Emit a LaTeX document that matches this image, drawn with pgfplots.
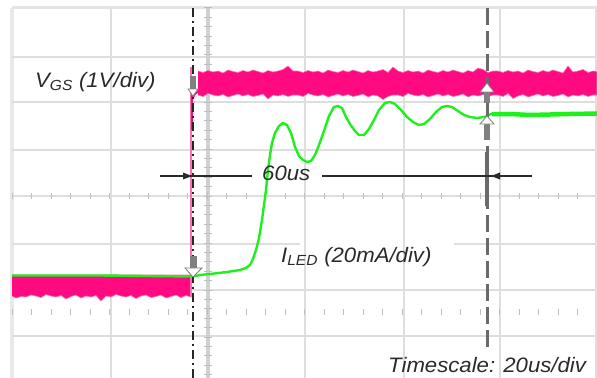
\documentclass[border=0pt]{standalone}
\usepackage{pgfplots}
\pgfplotsset{compat=1.18}
\usepackage{fontspec}
\setmainfont{Liberation Sans}
\definecolor{pinkc}{HTML}{FF0A80}
\definecolor{pinkl}{HTML}{FF70B0}
\definecolor{greenc}{HTML}{1EF01E}
\definecolor{gridc}{HTML}{DEDEDE}
\definecolor{gridt}{HTML}{BFBFBF}
\definecolor{gridm}{HTML}{D0D0D0}
\definecolor{curs}{HTML}{6A6A6A}
\definecolor{txt}{HTML}{2A2A2A}
\newcommand\lbl[1]{\scalebox{1.06}[1]{#1}}
\begin{document}
\begin{tikzpicture}
\begin{axis}[width=597bp,height=378bp,scale only axis,
  xmin=0,xmax=597,ymin=0,ymax=378,y dir=reverse,hide axis,clip=true]
% ---- grid ----
\pgfplotsinvokeforeach{111,305,404,500,596}{\draw[gridc,line width=1.6bp] (#1,8) -- (#1,378);}
\draw[gridc!70,line width=4bp] (12,8) -- (12,378);
\pgfplotsinvokeforeach{57,102,150,196,290,336}{\draw[gridc,line width=1.6bp] (12,#1) -- (597,#1);}
\draw[gridc,line width=1.6bp] (12,244) -- (300,244);
\draw[gridc,line width=1.6bp] (454,244) -- (597,244);
\draw[gridc!80,line width=3bp] (12,8) -- (597,8);
\draw[gridm,line width=4bp] (208,8) -- (208,378);
\pgfplotsinvokeforeach{0,...,39}{\draw[gridt,line width=1bp] (204,{8+9.4*#1}) -- (212,{8+9.4*#1});}
\pgfplotsinvokeforeach{0,...,30}{\draw[gridt,line width=1bp] ({12+19.5*#1},193) -- ({12+19.5*#1},199);
  \draw[gridt,line width=1bp] ({12+19.5*#1},309) -- ({12+19.5*#1},315);}
% ---- VGS trace ----
\addplot[fill=pinkc,draw=pinkl,line width=0.6bp] coordinates {
(198,71) (203,72.5) (208,70.5) (213,72) (218,71) (223,73) (228,70) (233,71.5) (238,72.5) (243,70.5)
(248,72) (253,70) (258,71.5) (263,73) (268,70.5) (273,72) (278,71) (283,69.5) (288,66) (293,71)
(298,71) (303,72.5) (308,70.5) (313,72) (318,71) (323,73) (328,70) (333,71.5) (338,72.5) (343,70.5)
(348,72) (353,70) (358,71.5) (363,73) (368,70.5) (373,72) (378,71) (383,69.5) (388,72.5) (393,67)
(398,71) (403,72.5) (408,70.5) (413,72) (418,71) (423,73) (428,70) (433,71.5) (438,72.5) (443,70.5)
(448,72) (453,70) (458,71.5) (463,73) (468,70.5) (473,72) (478,68) (483,69.5) (488,72.5) (493,71)
(498,71) (503,72.5) (508,70.5) (513,72) (518,71) (523,73) (528,70) (533,71.5) (538,72.5) (543,70.5)
(548,72) (553,70) (558,71.5) (563,73) (568,66) (573,72) (578,71) (583,69.5) (588,72.5) (593,71)
(597,71.5)
(597,95) (593,95) (588,96.5) (583,94.5) (578,96) (573,95) (568,97) (563,94) (558,95.5) (553,96.5) (548,94.5)
(543,96) (538,94) (533,95.5) (528,97) (523,94.5) (518,96) (513,98.5) (508,93.5) (503,96.5) (498,95)
(493,95) (488,96.5) (483,94.5) (478,96) (473,95) (468,97) (463,94) (458,95.5) (453,96.5) (448,94.5)
(443,96) (438,94) (433,95.5) (428,97) (423,94.5) (418,96) (413,95) (408,93.5) (403,96.5) (398,95)
(393,95) (388,96.5) (383,99.5) (378,96) (373,95) (368,97) (363,94) (358,95.5) (353,96.5) (348,94.5)
(343,96) (338,94) (333,95.5) (328,97) (323,94.5) (318,96) (313,95) (308,93.5) (303,96.5) (298,95)
(293,95) (288,96.5) (283,94.5) (278,96) (273,95) (268,99) (263,94) (258,95.5) (253,96.5) (248,94.5)
(243,96) (238,94) (233,95.5) (228,97) (223,94.5) (218,96) (213,95) (208,93.5) (203,96.5) (198,95)};
\addplot[fill=pinkc,draw=pinkl,line width=0.6bp] coordinates {
(12,275) (191,275)
(191,297) (186,295.5) (181,297.5) (176,295) (171,296.5) (166,298) (161,295) (156,296.5) (151,297.5) (146,295)
(141,296) (136,298.5) (131,295.5) (126,297) (121,296) (116,294.5) (111,297) (106,296) (101,301) (96,295.5)
(91,297) (86,296) (81,298) (76,295) (71,296.5) (66,299) (61,295.5) (56,297) (51,296) (46,294.5)
(41,297.5) (36,296) (31,295) (26,297) (21,296.5) (16,298) (12,296)};
\addplot[pinkl,line width=2bp] coordinates {(191,297) (191,67)};
\addplot[pinkc,line width=2bp] coordinates {(192,130) (192,95)};
\addplot[pinkc,line width=3bp] coordinates {(192,99) (194,94) (198,91)};
% ---- ILED trace ----
\addplot[greenc,line width=2.4bp] coordinates {
(12,275.5) (100,275.5) (193,276.5) (200,275) (210,274) (227,272) (240,270) (246,268)
(250,265) (253,259) (256,250) (259,238) (262,220) (264,205) (266,190) (268,170) (270,155)
(272,143) (275,133) (279,126) (283,123) (287,125) (291,133) (295,147) (299,156) (303,160)
(307,162) (311,161) (315,155) (319,145) (324,131) (329,116) (334,107) (338,106) (342,108)
(346,117) (350,124) (355,131) (359,135) (364,135) (369,129) (374,120) (379,110) (385,103)
(390,102) (395,104) (401,110) (407,117) (413,122) (419,125) (424,124) (430,119) (436,112)
(442,107) (447,106) (452,107) (458,111) (464,115) (470,117) (477,118) (484,117) (487,116)
(491,114) (494,113)};
\addplot[greenc,line width=4.5bp] coordinates {
(492,114) (510,114) (530,115) (550,114.5) (570,114) (597,113.5)};
% ---- cursors ----
\draw[black!85,line width=1.3bp,dash pattern=on 9bp off 4bp on 2bp off 4bp] (193,8) -- (193,378);
\draw[curs,line width=3bp,dash pattern=on 17bp off 6bp] (487,8) -- (487,352);
\draw[curs,line width=3bp] (487,95) -- (487,140);
\draw[curs,line width=3.5bp] (487,152) -- (487,206);
% markers
\fill[gray] (190,76) rectangle (196,89);
\filldraw[fill=white,draw=gray,line width=0.8bp] (188,89) -- (198,89) -- (193,96) -- cycle;
\fill[gray] (190,256) rectangle (197,268);
\filldraw[fill=white,draw=gray,line width=0.8bp] (185,268) -- (202,268) -- (193,277) -- cycle;
\fill[gray] (484,92) rectangle (490,103);
\filldraw[fill=white,draw=gray,line width=0.8bp] (480,92) -- (494,92) -- (487,83) -- cycle;
\fill[gray] (484,124) rectangle (490,140);
\filldraw[fill=white,draw=gray,line width=0.8bp] (480,124) -- (494,124) -- (487,116) -- cycle;
% ---- measurement arrow ----
\draw[txt,line width=1.4bp] (160,176) -- (252,176);
\fill[txt] (183,172.5) -- (192,176) -- (183,179.5) -- cycle;
\draw[txt,line width=1.4bp] (322,176) -- (532,176);
\fill[txt] (500,172.5) -- (491,176) -- (500,179.5) -- cycle;
% ---- texts ----
\node[anchor=base west,inner sep=0pt,txt,font=\fontsize{21}{25}\selectfont\itshape] at (35,87) {\lbl{V\textsubscript{GS} (1V/div)}};
\node[anchor=base west,inner sep=0pt,txt,font=\fontsize{21}{25}\selectfont\itshape] at (281,262) {\lbl{I\textsubscript{LED} (20mA/div)}};
\node[anchor=base west,inner sep=0pt,txt,font=\fontsize{21}{25}\selectfont\itshape] at (262,180) {\lbl{60us}};
\node[anchor=base west,inner sep=0pt,txt,font=\fontsize{21}{25}\selectfont\itshape] at (388,372) {\lbl{Timescale: 20us/div}};
\end{axis}
\pgfresetboundingbox
\path (current axis.south west) rectangle (current axis.north east);
\end{tikzpicture}
\end{document}
